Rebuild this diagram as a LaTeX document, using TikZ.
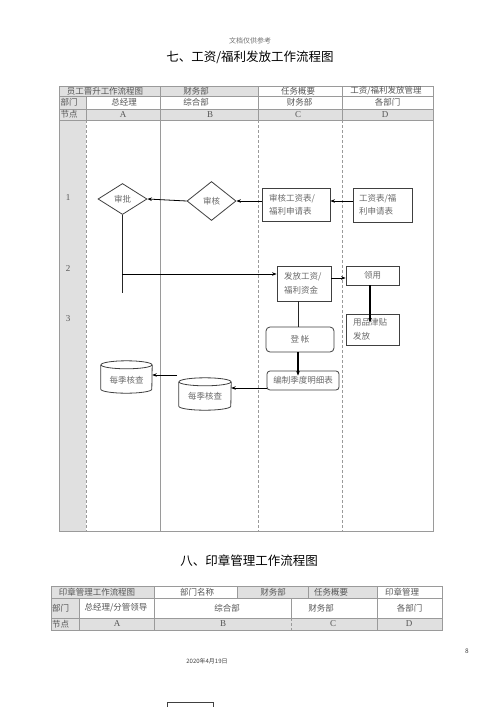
\documentclass[tikz,border=0pt]{standalone}
\usepackage{fontspec}
\setmainfont{Liberation Serif}
\newfontfamily\cjk{Noto Sans CJK SC}
\usetikzlibrary{shapes.geometric,arrows.meta,calc}
\definecolor{gridc}{HTML}{9A9A9A}
\definecolor{cellg}{HTML}{E0E0E0}
\definecolor{txtc}{HTML}{555555}
\definecolor{ntxt}{HTML}{6A6A6A}
\definecolor{edgec}{HTML}{404040}
\tikzset{
  ttxt/.style={font=\cjk\fontsize{8.5}{9}\selectfont, text=txtc, inner sep=0pt},
  ltxt/.style={font=\fontsize{9}{9}\selectfont, text=txtc, inner sep=0pt},
  grid/.style={draw=gridc, line width=0.8pt},
  dgrid/.style={draw=gridc, line width=0.6pt, dash pattern=on 3pt off 2pt},
  gcell/.style={fill=cellg, draw=none},
  box/.style={draw=edgec, line width=0.8pt, rectangle, inner ysep=0pt,
    font=\cjk\fontsize{8.5}{13.5}\selectfont, text=ntxt, align=left},
  rbox/.style={box, rounded corners=4pt, align=center, inner sep=0pt},
  dia/.style={draw=edgec, line width=0.8pt, diamond, inner sep=0pt,
    font=\cjk\fontsize{8.5}{9}\selectfont, text=ntxt},
  cylb/.style={draw=edgec, line width=0.8pt},
  cyltxt/.style={font=\cjk\fontsize{8.5}{9}\selectfont, text=ntxt, inner sep=0pt},
  arr/.style={draw=black, line width=0.8pt, -{Stealth[length=4.5pt,width=3.5pt]}},
  tarr/.style={arr, line width=1.3pt},
  ln/.style={draw=black!85, line width=0.8pt},
}
\begin{document}
\begin{tikzpicture}[x=1pt,y=-1pt]
\useasboundingbox (0,0) rectangle (500,707);
\fill[white] (0,0) rectangle (500,707);

% ---------- headings ----------
\node[font=\cjk\fontsize{7}{8}\selectfont, text=black!55] (note) at (250,41) {文档仅供参考};
\node[font=\cjk\fontsize{12.5}{13}\selectfont, text=black] (title1) at (250,57) {七、工资/福利发放工作流程图};

% ---------- table 1 ----------
\fill[cellg] (59,86) rectangle (258,96);
\fill[cellg] (59,96) rectangle (86,109);
\fill[cellg] (59,109) rectangle (433,120);
\fill[cellg] (59,120) rectangle (86,531);
\draw[grid] (59,86) rectangle (433,531);
\draw[grid] (59,96) -- (433,96);
\draw[grid] (59,109) -- (433,109);
\draw[grid] (59,120) -- (433,120);
\draw[grid] (86,96) -- (86,120);
\draw[grid] (160,86) -- (160,531);
\draw[grid] (258,86) -- (258,120);
\draw[grid] (342,86) -- (342,120);
\draw[dgrid] (86,120) -- (86,531);
\draw[dgrid] (258,120) -- (258,531);
\draw[dgrid] (342,120) -- (342,531);

\node[ttxt] (h11) at (105,91) {员工晋升工作流程图};
\node[ttxt] (h12) at (196,91) {财务部};
\node[ttxt] (h13) at (298,91) {任务概要};
\node[ttxt] (h14) at (386,91) {工资/福利发放管理};
\node[ttxt, anchor=west] (h21) at (60.5,102.5) {部门};
\node[ttxt] (h22) at (124,102.5) {总经理};
\node[ttxt] (h23) at (196,102.5) {综合部};
\node[ttxt] (h24) at (299.5,102.5) {财务部};
\node[ttxt] (h25) at (387.5,102.5) {各部门};
\node[ttxt, anchor=west] (h31) at (60.5,114.5) {节点};
\node[ltxt] (h32) at (123,114.5) {A};
\node[ltxt] (h33) at (210,114.5) {B};
\node[ltxt] (h34) at (298,114.5) {C};
\node[ltxt] (h35) at (385,114.5) {D};

\node[ltxt] (r1) at (68,198) {1};
\node[ltxt] (r2) at (68,269) {2};
\node[ltxt] (r3) at (68,319) {3};

% ---------- flow nodes ----------
\node[dia, minimum width=49pt, minimum height=31pt] (sp) at (122.5,199) {审批};
\node[dia, minimum width=49pt, minimum height=39pt] (sh) at (211.5,201) {审核};
\node[box, inner xsep=7pt, text width=54pt, minimum height=33pt] (b1) at (296,204.5) {审核工资表/\\福利申请表};
\node[box, inner xsep=6pt, text width=47pt, minimum height=34pt] (b2) at (382.5,205) {工资表/福\\利申请表};
\node[box, inner xsep=7pt, text width=40pt, minimum height=35pt] (ff) at (304,283.5) {发放工资/\\福利资金};
\node[box, align=center, inner xsep=0pt, minimum width=53pt, minimum height=19pt] (ly) at (372.5,275.5) {领用};
\node[box, inner xsep=7pt, text width=39pt, minimum height=31pt] (yp) at (372.5,329.5) {用品津贴\\发放};
\node[rbox, minimum width=68pt, minimum height=25pt] (dz) at (300,339.5) {登 帐};
\node[rbox, rounded corners=3pt, minimum width=72pt, minimum height=19pt] (bz) at (303,380.5) {编制季度明细表};

% cylinders
\node[minimum width=51pt, minimum height=32pt, inner sep=0pt] (cy1) at (126.5,377) {};
\node[minimum width=52pt, minimum height=32pt, inner sep=0pt] (cy2) at (205,394) {};
\draw[cylb] ($(cy1.north west)+(0,4)$) -- ($(cy1.south west)+(0,-4)$)
  arc[start angle=180, end angle=360, x radius=25.5pt, y radius=4pt]
  -- ($(cy1.north east)+(0,4)$);
\draw[cylb] ($(cy1.north)+(0,4)$) ellipse[x radius=25.5pt, y radius=4pt];
\draw[cylb] ($(cy2.north west)+(0,4)$) -- ($(cy2.south west)+(0,-4)$)
  arc[start angle=180, end angle=360, x radius=26pt, y radius=4pt]
  -- ($(cy2.north east)+(0,4)$);
\draw[cylb] ($(cy2.north)+(0,4)$) ellipse[x radius=26pt, y radius=4pt];
\node[cyltxt] (cy1t) at (126.5,380) {每季核查};
\node[cyltxt] (cy2t) at (205,396) {每季核查};

% ---------- connectors ----------
\draw[arr] (sh.west) -- (sp.east);
\draw[arr] (b1.west |- sh.east) -- (sh.east);
\draw[arr] (b2.west |- sh.east) -- (b1.east |- sh.east);
\coordinate (vb) at (122,293);
\draw[ln] (sp.south -| vb) -- (vb);
\draw[arr] (122,274) -- (ff.west |- 0,274);
\draw[arr] (ff.east |- 0,278) -- (ly.west |- 0,278);
\draw[tarr] ($(ly.south)+(-2.5,0)$) -- ($(yp.north)+(-2.5,9)$);
\draw[ln] (ff.south -| 298,0) -- (dz.north -| 298,0);
\draw[tarr] (dz.south -| 298,0) -- ($(bz.north -| 298,0)+(0,5)$);
\draw[arr] (bz.west |- 0,388) -- (cy2.east |- 0,388);
\coordinate (fr) at (177,375);
\draw[arr] (fr) -- (cy1.east |- fr);

% ---------- heading 2 ----------
\node[font=\cjk\fontsize{12.5}{13}\selectfont, text=black] (title2) at (249,561) {八、印章管理工作流程图};

% ---------- table 2 ----------
\fill[cellg] (51,586) rectangle (154,598);
\fill[cellg] (237,586) rectangle (377,598);
\fill[cellg] (51,598) rectangle (79,618);
\fill[cellg] (51,618) rectangle (442,630);
\draw[grid] (51,586) rectangle (442,630);
\draw[grid] (51,598) -- (442,598);
\draw[grid] (51,618) -- (442,618);
\draw[grid] (154,586) -- (154,630);
\draw[grid] (237,586) -- (237,598);
\draw[grid] (308,586) -- (308,598);
\draw[grid] (377,586) -- (377,630);
\draw[grid] (79,598) -- (79,630);
\draw[grid] (291,598) -- (291,618);
\draw[dgrid] (291,618) -- (291,630);

\node[ttxt] (g11) at (97,592) {印章管理工作流程图};
\node[ttxt] (g12) at (197,592) {部门名称};
\node[ttxt] (g13) at (273,592) {财务部};
\node[ttxt] (g14) at (331,592) {任务概要};
\node[ttxt] (g15) at (402,592) {印章管理};
\node[ttxt] (g21) at (60.5,608) {部门};
\node[ttxt] (g22) at (116,608) {总经理/分管领导};
\node[ttxt] (g23) at (227,608) {综合部};
\node[ttxt] (g24) at (321,608) {财务部};
\node[ttxt] (g25) at (409.5,608) {各部门};
\node[ttxt] (g31) at (60.5,624) {节点};
\node[ltxt] (g32) at (117,624) {A};
\node[ltxt] (g33) at (223,624) {B};
\node[ltxt] (g34) at (333,624) {C};
\node[ltxt] (g35) at (409,624) {D};

% ---------- footer ----------
\node[font=\cjk\fontsize{6.5}{7}\selectfont, text=black!75] (pg) at (467,651) {8};
\node[font=\cjk\fontsize{6}{7}\selectfont, text=black!75] (date) at (207,661) {2020年4月19日};
\draw[draw=edgec, line width=0.8pt] (167,708) -- (167,702) -- (213,702) -- (213,708);
\end{tikzpicture}
\end{document}
